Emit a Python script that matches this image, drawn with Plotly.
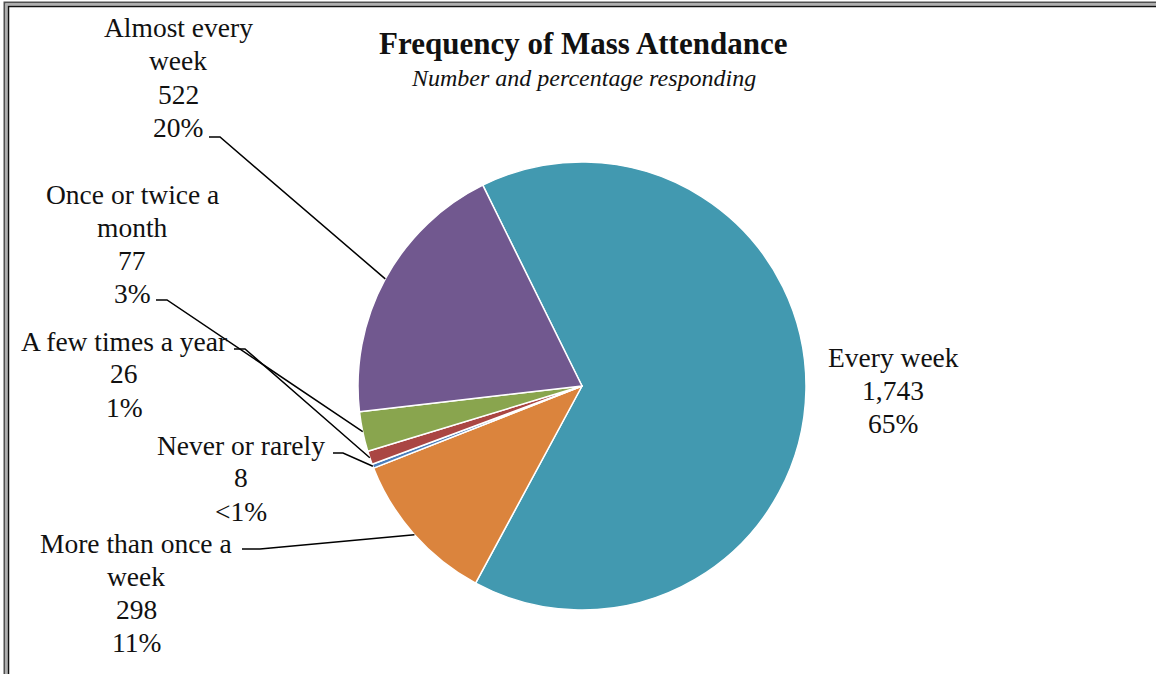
import math
import plotly.graph_objects as go

# Survey responses: how often respondents attend Mass
categories = ["Every week", "More than once a week", "Never or rarely",
              "A few times a year", "Once or twice a month", "Almost every week"]
counts = [1743, 298, 8, 26, 77, 522]
pct_labels = ["65%", "11%", "<1%", "1%", "3%", "20%"]
count_labels = ["1,743", "298", "8", "26", "77", "522"]
label_lines = [
    ["Every week"],
    ["More than once a", "week"],
    ["Never or rarely"],
    ["A few times a year"],
    ["Once or twice a", "month"],
    ["Almost every", "week"],
]
colors = ["#4299B0", "#DB843D", "#4A7EBB", "#AA4643", "#89A54E", "#71588F"]

W, H = 1156, 674
FONT = "Liberation Serif"
ROTATION = -26.3          # start angle of the first slice, clockwise from 12 o'clock
CX, CY, R = 582, 386, 224  # pie centre and radius in page pixels


def px(x):
    return x / W


def py(y):
    return 1 - y / H


fig = go.Figure(go.Pie(
    labels=categories,
    values=counts,
    sort=False,
    direction="clockwise",
    rotation=ROTATION,
    marker=dict(colors=colors, line=dict(color="white", width=1.5)),
    textinfo="none",
    hoverinfo="label+value+percent",
    showlegend=False,
    domain=dict(x=[px(CX - R), px(CX + R)], y=[py(CY + R), py(CY - R)]),
))

# label block placement: (centre x, y of first line) and leader-line start
label_pos = [
    (893, 357, None),
    (136, 543, (242, 549, 260)),
    (241, 445, (333, 453, 343)),
    (124, 341, (234, 349, 245)),
    (132, 194, (156, 300, 167)),
    (178, 28, (209, 137, 220)),
]
LINE_H = 33

annotations = []
shapes = []
total = sum(counts)
start = ROTATION
for i, v in enumerate(counts):
    sweep = 360 * v / total
    mid = math.radians(start + sweep / 2)
    start += sweep
    tx = CX + R * math.sin(mid)
    ty = CY - R * math.cos(mid)

    cx, y0, lead = label_pos[i]
    lines = label_lines[i] + [count_labels[i], pct_labels[i]]
    for k, line in enumerate(lines):
        annotations.append(dict(
            x=px(cx), y=py(y0 + k * LINE_H), xref="paper", yref="paper",
            text=line, showarrow=False, xanchor="center", yanchor="middle",
            font=dict(family=FONT, size=27.5, color="#111111"),
        ))
    if lead:
        lx, ly, lx2 = lead
        shapes.append(dict(
            type="path", xref="paper", yref="paper",
            path=f"M {px(lx)},{py(ly)} L {px(lx2)},{py(ly)} L {px(tx)},{py(ty)}",
            line=dict(color="black", width=1.5),
        ))

# title and subtitle
annotations.append(dict(
    x=px(583), y=py(43), xref="paper", yref="paper", showarrow=False,
    text="<b>Frequency of Mass Attendance</b>", xanchor="center", yanchor="middle",
    font=dict(family=FONT, size=31, color="#111111"),
))
annotations.append(dict(
    x=px(583), y=py(78), xref="paper", yref="paper", showarrow=False,
    text="<i>Number and percentage responding</i>", xanchor="center", yanchor="middle",
    font=dict(family=FONT, size=24, color="#111111"),
))

# double-rule frame along the top and left edges
for off, col, wid in [(3.5, "#505050", 2), (5.5, "#B0B0B0", 2.5), (7.5, "#111111", 1.5)]:
    shapes.append(dict(
        type="path", xref="paper", yref="paper",
        path=f"M {px(off + 1)},{py(H)} L {px(off + 1)},{py(off - 1)} L {px(W)},{py(off - 1)}",
        line=dict(color=col, width=wid),
    ))

fig.update_layout(
    width=W, height=H,
    margin=dict(l=0, r=0, t=0, b=0),
    paper_bgcolor="white",
    plot_bgcolor="white",
    annotations=annotations,
    shapes=shapes,
)

fig.write_html("out.html")
